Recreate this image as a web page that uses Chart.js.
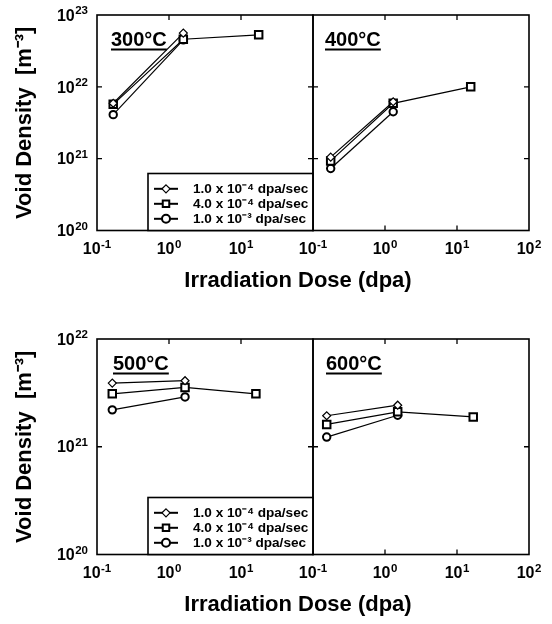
<!DOCTYPE html>
<html><head><meta charset="utf-8">
<script src="https://cdn.jsdelivr.net/npm/chart.js@4.4.1/dist/chart.umd.min.js"></script>
<style>
html,body{margin:0;padding:0;background:#fff;width:552px;height:624px;overflow:hidden;}
canvas{position:absolute;left:0;}
</style></head><body>
<canvas id="c300" width="552" height="300" style="top:0px"></canvas>
<canvas id="c400" width="552" height="300" style="top:0px"></canvas>
<canvas id="c500" width="552" height="300" style="top:324px"></canvas>
<canvas id="c600" width="552" height="300" style="top:324px"></canvas>
<script>
// ---- axis ticks and labels ----
const doseTicks = [0.1, 1, 10, 100];
const doseTickLabels = ['10^-1', '10^0', '10^1', '10^2'];
const densityTicks = [1e20, 1e21, 1e22, 1e23];
const densityTickLabels = ['10^20', '10^21', '10^22', '10^23'];
const rateLabels = ['1.0 x 10⁻⁴ dpa/sec', '4.0 x 10⁻⁴ dpa/sec', '1.0 x 10⁻³ dpa/sec'];
const panelLabels = ['300°C', '400°C', '500°C', '600°C'];
const xTitle = 'Irradiation Dose (dpa)';
const yTitle = 'Void Density  [m⁻³]';

// ---- data (dose in dpa, void density in m^-3) ----
const dose300 = [0.168, 1.58, 17.6];
const rate1_300 = [5.9e21, 5.6e22];
const rate2_300 = [5.7e21, 4.6e22, 5.3e22];
const rate3_300 = [4.1e21, 4.5e22];

const dose400 = [0.176, 1.3, 15.5];
const rate1_400 = [1.05e21, 6.2e21];
const rate2_400 = [9.3e20, 5.9e21, 1.0e22];
const rate3_400 = [7.3e20, 4.5e21];

const dose500 = [0.163, 1.67, 16.1];
const rate1_500 = [3.9e21, 4.1e21];
const rate2_500 = [3.1e21, 3.55e21, 3.1e21];
const rate3_500 = [2.2e21, 2.9e21];

const dose600 = [0.155, 1.5, 16.8];
const rate1_600 = [1.94e21, 2.43e21];
const rate2_600 = [1.61e21, 2.11e21, 1.89e21];
const rate3_600 = [1.23e21, 1.96e21];

// ---- styles ----
const FONT = "'Liberation Sans', Arial, Helvetica, sans-serif";
const markerStyles = [
  {pointStyle: 'rectRot', radius: 4, borderWidth: 1.2},
  {pointStyle: 'rect', radius: 5.3, borderWidth: 2},
  {pointStyle: 'circle', radius: 3.7, borderWidth: 2}
];
Chart.defaults.font.family = FONT;
Chart.defaults.color = '#000';

function drawMarker(ctx, style, r, bw, x, y) {
  ctx.beginPath();
  if (style === 'rect') { const s = r * Math.SQRT1_2; ctx.rect(x - s, y - s, 2 * s, 2 * s); }
  else if (style === 'rectRot') { ctx.moveTo(x, y - r); ctx.lineTo(x + r, y); ctx.lineTo(x, y + r); ctx.lineTo(x - r, y); ctx.closePath(); }
  else { ctx.arc(x, y, r, 0, Math.PI * 2); }
  ctx.fillStyle = '#fff'; ctx.fill();
  ctx.lineWidth = bw; ctx.strokeStyle = '#000'; ctx.stroke();
}

// draws "10" with a raised exponent; align: 'center' or 'right'
function drawPowerLabel(ctx, label, x, baseline, align) {
  const parts = label.split('^');
  ctx.font = 'bold 16px ' + FONT;
  const wb = ctx.measureText(parts[0]).width;
  ctx.font = 'bold 11.5px ' + FONT;
  const we = ctx.measureText(parts[1]).width;
  const gap = 0.5;
  const total = wb + gap + we;
  const x0 = align === 'center' ? x - total / 2 : x - total;
  ctx.textAlign = 'left';
  ctx.textBaseline = 'alphabetic';
  ctx.font = 'bold 16px ' + FONT;
  ctx.fillText(parts[0], x0, baseline);
  ctx.font = 'bold 11.5px ' + FONT;
  ctx.fillText(parts[1], x0 + wb + gap, baseline - 6.5);
}

const decor = {
  id: 'decor',
  afterDatasetsDraw(chart, args, opts) {
    const ctx = chart.ctx, a = chart.chartArea;
    const xs = chart.scales.x, ys = chart.scales.y;
    ctx.save();
    // frame
    ctx.strokeStyle = '#000';
    ctx.lineWidth = 1.6;
    ctx.strokeRect(a.left, a.top, a.right - a.left, a.bottom - a.top);
    // inward ticks
    ctx.lineWidth = 1.3;
    ctx.beginPath();
    xs.ticks.forEach(t => {
      const px = xs.getPixelForValue(t.value);
      if (px > a.left + 1 && px < a.right - 1) {
        ctx.moveTo(px, a.top); ctx.lineTo(px, a.top + 5);
        ctx.moveTo(px, a.bottom); ctx.lineTo(px, a.bottom - 5);
      }
    });
    ys.ticks.forEach(t => {
      const py = ys.getPixelForValue(t.value);
      if (py > a.top + 1 && py < a.bottom - 1) {
        ctx.moveTo(a.left, py); ctx.lineTo(a.left + 5, py);
        ctx.moveTo(a.right, py); ctx.lineTo(a.right - 5, py);
      }
    });
    ctx.stroke();
    // tick labels placed on the library's scales
    ctx.fillStyle = '#000';
    xs.ticks.forEach(t => {
      if (opts.hideLastX && t.value === doseTicks[doseTicks.length - 1]) return;
      const lab = doseTickLabels[doseTicks.indexOf(t.value)];
      drawPowerLabel(ctx, lab, xs.getPixelForValue(t.value), a.bottom + 23.5, 'center');
    });
    if (opts.showY) {
      ys.ticks.forEach(t => {
        const lab = densityTickLabels[densityTicks.indexOf(t.value)];
        drawPowerLabel(ctx, lab, a.left - 9, ys.getPixelForValue(t.value) + 5.7, 'right');
      });
    }
    // panel label
    ctx.fillStyle = '#000';
    ctx.font = 'bold 20px ' + FONT;
    ctx.textAlign = 'left';
    ctx.textBaseline = 'alphabetic';
    const lx = a.left + opts.labelDx, ly = a.top + 31;
    ctx.fillText(opts.label, lx, ly);
    const w = ctx.measureText(opts.label).width;
    ctx.fillRect(lx, ly + 2.5, w, 2);
    // legend
    if (opts.legend) {
      const bl = a.right - 165, bt = a.bottom - 57;
      ctx.fillStyle = '#fff';
      ctx.fillRect(bl, bt, a.right - bl, a.bottom - bt);
      ctx.lineWidth = 1.6; ctx.strokeStyle = '#000';
      ctx.strokeRect(bl, bt, a.right - bl, a.bottom - bt);
      chart.data.datasets.forEach((ds, i) => {
        const y = bt + 15.3 + i * 15;
        ctx.beginPath();
        ctx.lineWidth = 2; ctx.strokeStyle = '#000';
        ctx.moveTo(bl + 6, y); ctx.lineTo(bl + 30, y); ctx.stroke();
        const m = markerStyles[i];
        drawMarker(ctx, m.pointStyle, i === 1 ? 4.6 : 4, m.borderWidth, bl + 18, y);
        ctx.fillStyle = '#000';
        ctx.font = 'bold 13.6px ' + FONT;
        ctx.textAlign = 'left';
        ctx.textBaseline = 'middle';
        ctx.fillText(ds.label, bl + 45, y + 0.5);
      });
    }
    // x axis title shared by both panels of the row
    if (opts.xTitle) {
      ctx.fillStyle = '#000';
      ctx.font = 'bold 22px ' + FONT;
      ctx.textAlign = 'center';
      ctx.textBaseline = 'alphabetic';
      ctx.fillText(xTitle, 298, a.bottom + 56);
    }
    ctx.restore();
  }
};

function makePanel(id, cfg) {
  return new Chart(document.getElementById(id), {
    type: 'line',
    data: {
      datasets: cfg.series.map((vals, i) => ({
        label: rateLabels[i],
        data: vals.map((v, j) => ({x: cfg.dose[j], y: v})),
        borderColor: '#000', borderWidth: 1.2, backgroundColor: '#fff',
        pointStyle: markerStyles[i].pointStyle,
        pointRadius: markerStyles[i].radius,
        pointBorderWidth: markerStyles[i].borderWidth,
        pointBackgroundColor: '#fff', pointBorderColor: '#000',
        fill: false, tension: 0
      }))
    },
    options: {
      responsive: false, animation: false, devicePixelRatio: 1,
      layout: {padding: cfg.padding},
      plugins: {
        legend: {display: false}, tooltip: {enabled: false},
        decor: {label: cfg.label, labelDx: cfg.labelDx, legend: cfg.legend, xTitle: cfg.xTitle,
                hideLastX: cfg.hideLastX, showY: cfg.showY}
      },
      scales: {
        x: {
          type: 'logarithmic', min: 0.1, max: 100,
          grid: {display: false, drawTicks: false}, border: {display: false},
          afterBuildTicks: s => { s.ticks = doseTicks.map(v => ({value: v})); },
          afterFit: s => { s.height = cfg.xHeight; s.paddingLeft = 0; s.paddingRight = 0; },
          ticks: {display: false, autoSkip: false}
        },
        y: {
          type: 'logarithmic', min: 1e20, max: cfg.ymax, display: cfg.showY,
          grid: {display: false, drawTicks: false}, border: {display: false},
          afterBuildTicks: s => { s.ticks = densityTicks.filter(v => v <= cfg.ymax).map(v => ({value: v})); },
          afterFit: s => { if (cfg.showY) s.width = 97; s.paddingTop = 0; s.paddingBottom = 0; },
          title: {display: true, text: yTitle, color: '#000', font: {size: 22, weight: 'bold'}, padding: {top: 12, bottom: 0}},
          ticks: {display: false, autoSkip: false}
        }
      }
    },
    plugins: [decor]
  });
}

makePanel('c300', {dose: dose300, series: [rate1_300, rate2_300, rate3_300], label: panelLabels[0], labelDx: 14,
  legend: true, xTitle: true, hideLastX: true, showY: true, ymax: 1e23,
  padding: {left: 0, right: 239, top: 15, bottom: 0}, xHeight: 69.5});
makePanel('c400', {dose: dose400, series: [rate1_400, rate2_400, rate3_400], label: panelLabels[1], labelDx: 12,
  legend: false, xTitle: false, hideLastX: false, showY: false, ymax: 1e23,
  padding: {left: 313, right: 23, top: 15, bottom: 0}, xHeight: 69.5});
makePanel('c500', {dose: dose500, series: [rate1_500, rate2_500, rate3_500], label: panelLabels[2], labelDx: 16,
  legend: true, xTitle: true, hideLastX: true, showY: true, ymax: 1e22,
  padding: {left: 0, right: 239, top: 15, bottom: 0}, xHeight: 69.5});
makePanel('c600', {dose: dose600, series: [rate1_600, rate2_600, rate3_600], label: panelLabels[3], labelDx: 13,
  legend: false, xTitle: false, hideLastX: false, showY: false, ymax: 1e22,
  padding: {left: 313, right: 23, top: 15, bottom: 0}, xHeight: 69.5});
</script>
</body></html>
